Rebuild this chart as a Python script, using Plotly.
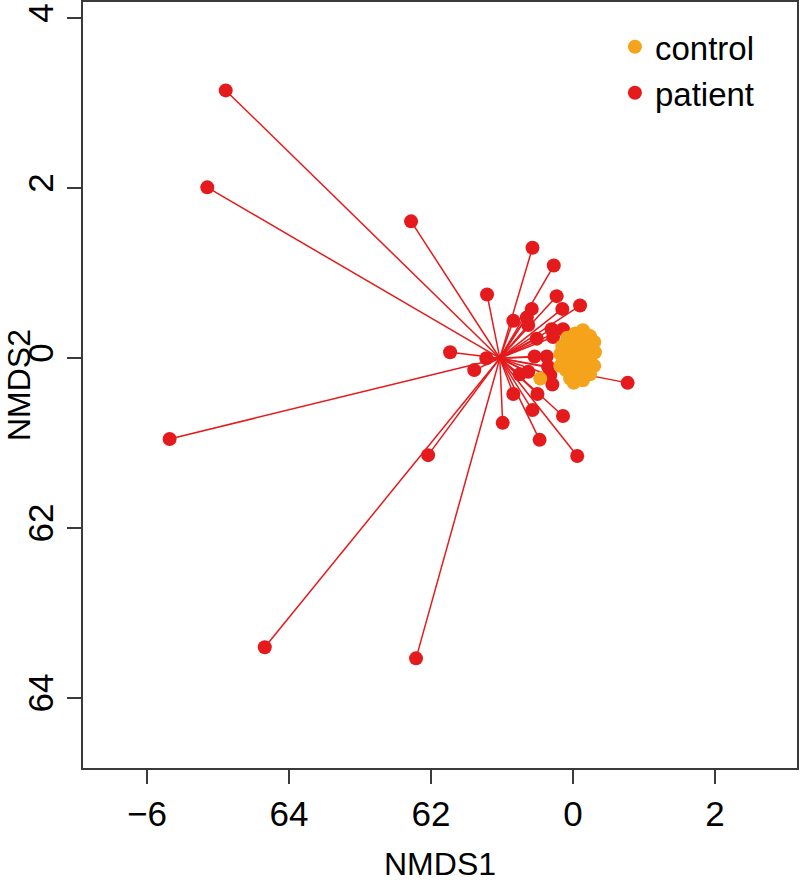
import plotly.graph_objects as go

# ---- data ----
patient_x = [-4.89, -5.15, -5.68, -4.34, -2.21, -2.28, -2.04, -1.73, -1.21, -1.39,
             0.06, 0.77, -0.57, -0.27, -0.23, 0.10, -0.15, -0.58, -0.84, -0.65,
             -0.63, -0.30, -0.14, -0.28, -0.51, -1.22, -0.54, -0.37, -0.75, -0.63,
             -0.35, -0.32, -0.29, -0.84, -0.50, -0.57, -0.14, -0.99, -0.47]
patient_y = [3.15, 2.01, -0.95, -3.40, -3.53, 1.61, -1.14, 0.07, 0.75, -0.14,
             -1.15, -0.29, 1.30, 1.09, 0.73, 0.62, 0.58, 0.58, 0.44, 0.48,
             0.39, 0.34, 0.34, 0.25, 0.23, 0.00, 0.02, 0.02, -0.19, -0.16,
             -0.10, -0.20, -0.31, -0.42, -0.42, -0.61, -0.68, -0.76, -0.96]
patient_centroid = (-1.03, 0.00)

control_x = [0.14, 0.03, 0.24, -0.08, 0.10, 0.30, -0.15, -0.01, 0.18, 0.31,
             -0.18, -0.04, 0.10, 0.24, -0.14, 0.03, 0.17, 0.30, -0.10, 0.07,
             0.24, -0.04, 0.14, 0.01, -0.18, -0.46]
control_y = [0.33, 0.29, 0.26, 0.24, 0.21, 0.19, 0.14, 0.14, 0.12, 0.07,
             0.05, 0.04, 0.05, 0.00, -0.05, -0.05, -0.09, -0.09, -0.14, -0.16,
             -0.19, -0.24, -0.26, -0.29, -0.09, -0.24]
control_centroid = (0.06, 0.00)

x_tickvals = [-6, -4, -2, 0, 2]
x_ticktext = ["\u22126", "64", "62", "0", "2"]
y_tickvals = [4, 2, 0, -2, -4]
y_ticktext = ["4", "2", "0", "62", "64"]

RED = "#E41A1C"
ORANGE = "#F5A31A"
FONT = "Liberation Sans, Arial, sans-serif"


def spider(xs, ys, c):
    lx, ly = [], []
    for x, y in zip(xs, ys):
        lx += [c[0], x, None]
        ly += [c[1], y, None]
    return lx, ly


fig = go.Figure()

cx, cy = spider(control_x, control_y, control_centroid)
fig.add_trace(go.Scatter(x=cx, y=cy, mode="lines", line=dict(color=ORANGE, width=1.5),
                         showlegend=False, hoverinfo="skip"))
px_, py_ = spider(patient_x, patient_y, patient_centroid)
fig.add_trace(go.Scatter(x=px_, y=py_, mode="lines", line=dict(color=RED, width=1.5),
                         showlegend=False, hoverinfo="skip"))

fig.add_trace(go.Scatter(x=patient_x, y=patient_y, mode="markers", name="patient",
                         marker=dict(color=RED, size=14, line=dict(width=0))))
fig.add_trace(go.Scatter(x=control_x, y=control_y, mode="markers", name="control",
                         marker=dict(color=ORANGE, size=14, line=dict(width=0))))

axis_common = dict(showline=True, mirror=True, linecolor="#3a3a3a", linewidth=2,
                   ticks="outside", ticklen=14, tickwidth=2, tickcolor="#3a3a3a",
                   showgrid=False, zeroline=False, automargin=False,
                   tickfont=dict(family=FONT, size=35, color="black"))

fig.update_layout(
    width=800, height=883,
    margin=dict(l=83, r=3, t=2, b=115),
    plot_bgcolor="white", paper_bgcolor="white",
    font=dict(family=FONT, color="black"),
    xaxis=dict(range=[-6.90, 3.155], tickmode="array", tickvals=x_tickvals,
               ticktext=x_ticktext, **axis_common),
    yaxis=dict(range=[-4.82, 4.19], tickmode="array", tickvals=y_tickvals,
               ticktext=y_ticktext, tickangle=-90, **axis_common),
    legend=dict(x=0.745, y=0.978, xanchor="left", yanchor="top",
                font=dict(family=FONT, size=33, color="black"),
                traceorder="reversed", bgcolor="rgba(0,0,0,0)",
                itemsizing="trace", tracegroupgap=0),
    annotations=[
        dict(text="NMDS1", xref="paper", yref="paper", x=0.5, y=0, yshift=-96,
             xanchor="center", yanchor="middle", showarrow=False,
             font=dict(family=FONT, size=32, color="black")),
        dict(text="NMDS2", xref="paper", yref="paper", x=0, y=0.5, xshift=-64,
             xanchor="center", yanchor="middle", textangle=-90, showarrow=False,
             font=dict(family=FONT, size=32, color="black")),
    ],
)

fig.write_html("out.html", config={"displayModeBar": False},
               post_script="document.body.style.margin='0';document.body.style.padding='0';")
